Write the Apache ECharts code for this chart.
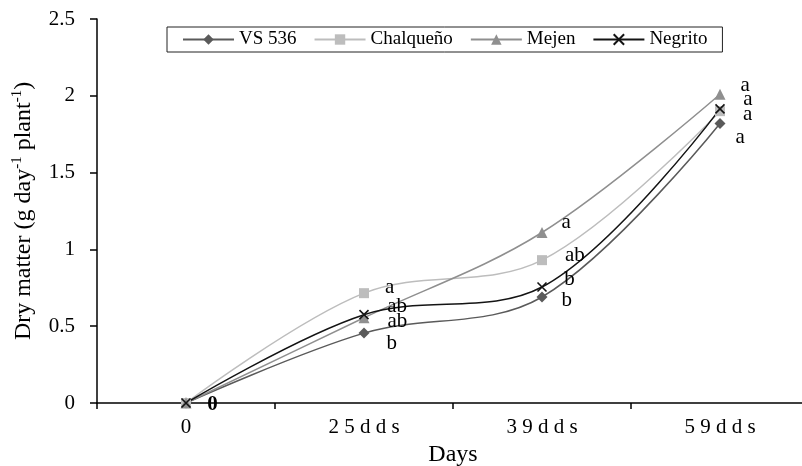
<!DOCTYPE html>
<html>
<head>
<meta charset="utf-8">
<style>
  html, body { margin: 0; padding: 0; background: #fff; }
  #main { width: 802px; height: 466px; }
</style>
<script src="https://cdn.jsdelivr.net/npm/echarts@6/dist/echarts.min.js"></script>
</head>
<body>
<div id="main"></div>
<script>
var days = ['0', '25dds', '39dds', '59dds'];
var yTicks = [0, 0.5, 1, 1.5, 2, 2.5];

var vs536 = [0, 0.455, 0.69, 1.82];
var chalqueno = [0, 0.715, 0.93, 1.90];
var mejen = [0, 0.555, 1.11, 2.01];
var negrito = [0, 0.575, 0.755, 1.915];

// significance letters shown next to the points
var vsLetters = ['', 'b', 'b', 'a'];
var chalLetters = ['', 'a', 'ab', 'a'];
var mejenLetters = ['', 'ab', 'a', 'a'];
var negritoLetters = ['0', 'ab', 'b', 'a'];

var FONT = 'Liberation Serif';

// nudges for the letters so they do not sit on top of each other
var nudges = {
	'VS 536': [[0, 0], [3, 10], [0, 3], [-4, 14]],
	'Chalqueño': [[0, 0], [2, -6], [4, -5], [4, 3]],
	'Mejen': [[0, 0], [4, 4], [0, -10], [1, -9]],
	'Negrito': [[2, 2], [4, -8], [3, -8], [4, -9]]
};

var mainChart = echarts.init(document.getElementById('main'));

function makeSeries(name, values, letters, color, symbol, size) {
	var isPath = symbol.indexOf('path') === 0;
	return {
		name: name,
		type: 'line',
		smooth: 0.35,
		symbol: symbol,
		symbolSize: size,
		lineStyle: { color: color, width: 1.5 },
		itemStyle: { color: color, borderColor: color, borderWidth: isPath ? 1.6 : 0 },
		label: {
			show: true,
			position: 'right',
			distance: 14,
			color: '#000',
			fontFamily: FONT,
			fontSize: 21,
			formatter: function (p) {
				var l = letters[p.dataIndex];
				return l === '0' ? '{z|0}' : l;
			},
			rich: { z: { fontFamily: FONT, fontSize: 21, fontWeight: 'bold', color: '#000' } }
		},
		labelLayout: function (p) {
			var n = nudges[name][p.dataIndex];
			return { dx: n[0], dy: n[1], hideOverlap: false };
		},
		emphasis: { disabled: true },
		data: values
	};
}

var option = {
	animation: false,
	backgroundColor: '#fff',
	textStyle: { fontFamily: FONT },
	legend: {
		left: 167,
		top: 27,
		padding: [3, 15],
		itemWidth: 51,
		itemHeight: 13,
		itemGap: 17,
		borderColor: '#222',
		borderWidth: 1,
		textStyle: { fontFamily: FONT, fontSize: 19, color: '#000' },
		data: ['VS 536', 'Chalqueño', 'Mejen', 'Negrito']
	},
	grid: { left: 97, top: 19, width: 712, height: 384, outerBoundsMode: 'none' },
	xAxis: {
		type: 'category',
		data: days,
		boundaryGap: true,
		name: 'Days',
		nameLocation: 'middle',
		nameGap: 36,
		nameTextStyle: { fontFamily: FONT, fontSize: 24, color: '#000' },
		axisLine: { lineStyle: { color: '#000', width: 1.5 } },
		axisTick: { show: true, length: 6, lineStyle: { color: '#000', width: 1.5 } },
		axisLabel: {
			margin: 14,
			fontFamily: FONT,
			fontSize: 21,
			color: '#000',
			formatter: function (v) { return v.split('').join(' '); }
		}
	},
	yAxis: {
		type: 'value',
		min: yTicks[0],
		max: yTicks[yTicks.length - 1],
		interval: 0.5,
		name: 'Dry matter (g day{s|-1} plant{s|-1})',
		nameLocation: 'middle',
		nameGap: 58,
		nameTextStyle: {
			fontFamily: FONT, fontSize: 24, color: '#000', lineHeight: 28,
			rich: { s: { fontFamily: FONT, fontSize: 15, verticalAlign: 'top', lineHeight: 16, color: '#000' } }
		},
		splitLine: { show: false },
		axisLine: { show: true, lineStyle: { color: '#000', width: 1.5 } },
		axisTick: { show: true, length: 7, lineStyle: { color: '#000', width: 1.5 } },
		axisLabel: { margin: 22, fontFamily: FONT, fontSize: 21, color: '#000' }
	},
	series: [
		makeSeries('VS 536', vs536, vsLetters, '#5a5a5a', 'diamond', 11),
		makeSeries('Chalqueño', chalqueno, chalLetters, '#bdbdbd', 'rect', 10),
		makeSeries('Mejen', mejen, mejenLetters, '#8f8f8f', 'triangle', 11),
		makeSeries('Negrito', negrito, negritoLetters, '#141414', 'path://M0,0L10,10M10,0L0,10', 9)
	]
};
mainChart.setOption(option);
</script>
</body>
</html>
